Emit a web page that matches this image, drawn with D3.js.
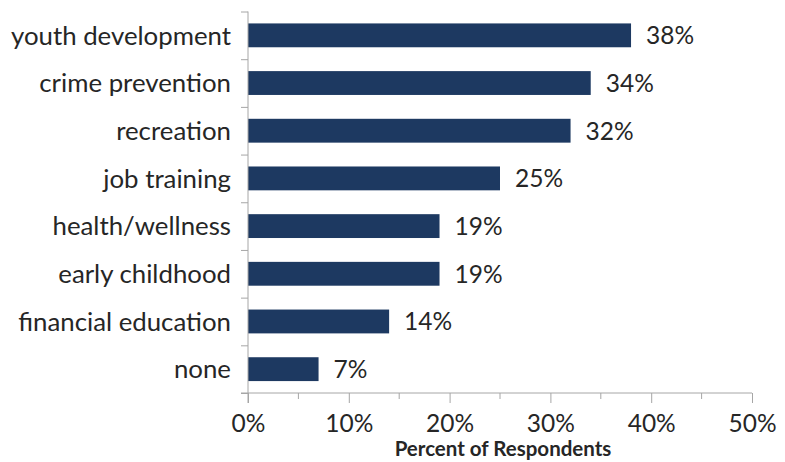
<!DOCTYPE html>
<html>
<head>
<meta charset="utf-8">
<script src="https://cdn.jsdelivr.net/npm/d3@7"></script>
<style>
  html, body { margin: 0; padding: 0; background: #fff; }
  svg { display: block; }
  text { font-family: Lato, "Open Sans", sans-serif; fill: #262626; }
</style>
</head>
<body>
<svg id="chart" width="785" height="462"></svg>
<script>
// Survey responses: share of respondents naming each program area
const categories = ["youth development", "crime prevention", "recreation", "job training",
                    "health/wellness", "early childhood", "financial education", "none"];
const percents = [38, 34, 32, 25, 19, 19, 14, 7];
const xTicks = [0, 10, 20, 30, 40, 50];
const xMinorTicks = [5, 15, 25, 35, 45];
const xTitle = "Percent of Respondents";

const svg = d3.select("#chart");
const plotLeft = 248, plotRight = 752, plotTop = 11.5, plotBottom = 393;
const axisColor = "#a6a6a6";
const barColor = "#1d3961";

const x = d3.scaleLinear().domain([0, 50]).range([plotLeft, plotRight]);
const y = d3.scaleBand().domain(categories).range([plotTop, plotBottom])
  .paddingInner(0.5).paddingOuter(0.25);
const boundary = d3.scaleLinear().domain([0, categories.length]).range([plotTop, plotBottom]);

// bars
svg.append("g").selectAll("rect").data(categories).join("rect")
  .attr("x", x(0))
  .attr("y", d => y(d))
  .attr("width", (d, i) => x(percents[i]) - x(0))
  .attr("height", y.bandwidth())
  .attr("fill", barColor);

// value labels
svg.append("g").selectAll("text").data(categories).join("text")
  .attr("x", (d, i) => x(percents[i]) + 15)
  .attr("y", d => y(d) + y.bandwidth() / 2)
  .attr("dy", "0.36em")
  .style("font-size", "24.5px")
  .text((d, i) => percents[i] + "%");

// y axis: line with ticks at category boundaries
const yAxis = svg.append("g").attr("transform", `translate(${plotLeft},0)`)
  .call(d3.axisLeft(boundary).tickValues(d3.range(categories.length + 1))
    .tickSize(7).tickFormat(""));
yAxis.select(".domain").remove();
yAxis.selectAll("line").attr("stroke", axisColor);
svg.append("line").attr("x1", plotLeft).attr("x2", plotLeft)
  .attr("y1", plotTop).attr("y2", plotBottom + 10)
  .attr("stroke", axisColor);

// category labels
svg.append("g").selectAll("text").data(categories).join("text")
  .attr("x", plotLeft - 17)
  .attr("y", d => y(d) + y.bandwidth() / 2)
  .attr("dy", "0.36em")
  .attr("text-anchor", "end")
  .style("font-size", "25.8px")
  .text(d => d);

// x axis
const xAxis = svg.append("g").attr("transform", `translate(0,${plotBottom})`)
  .call(d3.axisBottom(x).tickValues(xTicks).tickSize(10)
    .tickFormat(d => d + "%"));
xAxis.select(".domain").remove();
xAxis.selectAll("line").attr("stroke", axisColor);
xAxis.selectAll("text")
  .attr("y", 39).attr("dy", null)
  .style("font-size", "24.5px").style("fill", "#262626")
  .style("font-family", "Lato, sans-serif");
svg.append("line").attr("x1", plotLeft - 7).attr("x2", plotRight)
  .attr("y1", plotBottom).attr("y2", plotBottom)
  .attr("stroke", axisColor);
svg.append("g").selectAll("line").data(xMinorTicks).join("line")
  .attr("x1", d => x(d)).attr("x2", d => x(d))
  .attr("y1", plotBottom).attr("y2", plotBottom + 6)
  .attr("stroke", axisColor);

// axis title
svg.append("text")
  .attr("x", 503)
  .attr("y", 456)
  .attr("text-anchor", "middle")
  .style("font-size", "20.5px")
  .style("font-weight", "bold")
  .text(xTitle);
</script>
</body>
</html>
